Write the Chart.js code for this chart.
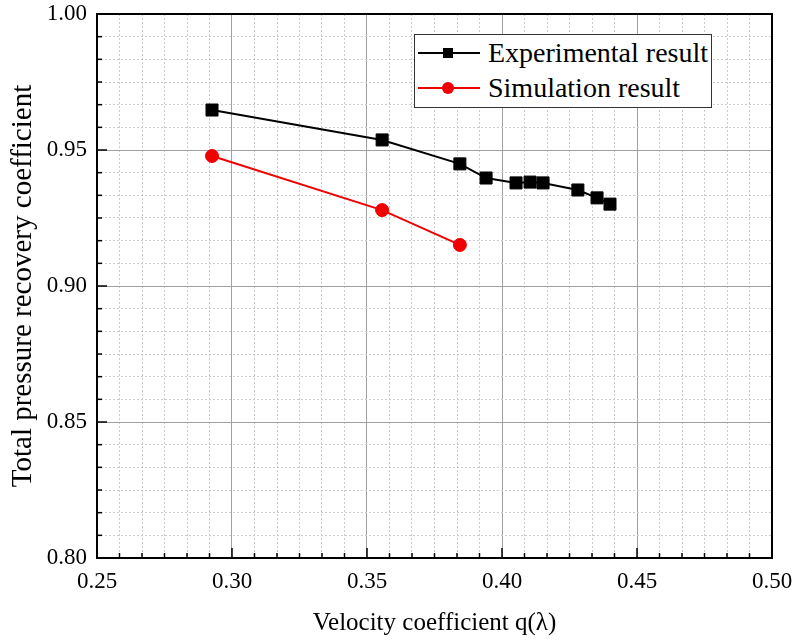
<!DOCTYPE html>
<html>
<head>
<meta charset="utf-8">
<script src="https://cdn.jsdelivr.net/npm/chart.js@4"></script>
<style>
  body { margin: 0; background: #fff; }
  #wrap { position: relative; width: 795px; height: 643px; }
  #legend {
    position: absolute; left: 414px; top: 34px; width: 298px; height: 74px;
    box-sizing: border-box; border: 1.5px solid #333; background: #fff;
    font-family: 'Liberation Serif', 'Times New Roman', serif; font-size: 28px; color: #000;
  }
  .row { position: absolute; left: 0; height: 32px; line-height: 32px; white-space: nowrap; }
  .row svg { position: absolute; left: 3px; top: 6px; }
  .row span { position: absolute; left: 73px; }
</style>
</head>
<body>
<div id="wrap">
  <canvas id="chart"></canvas>
  <div id="legend">
    <div class="row" style="top:2px">
      <svg width="64" height="20"><line x1="0" y1="10" x2="62" y2="10" stroke="#000" stroke-width="2"/><rect x="25" y="5" width="10" height="10" fill="#000"/></svg>
      <span>Experimental result</span>
    </div>
    <div class="row" style="top:37px">
      <svg width="64" height="20"><line x1="0" y1="10" x2="62" y2="10" stroke="#f00000" stroke-width="2"/><circle cx="30" cy="10" r="6" fill="#f00000"/></svg>
      <span>Simulation result</span>
    </div>
  </div>
</div>
<script>
// velocity coefficient q(lambda)
var expX = [0.2926, 0.3556, 0.3844, 0.3941, 0.4052, 0.4104, 0.4152, 0.4281, 0.4352, 0.4400]
var expY = [0.9647, 0.9537, 0.9449, 0.9397, 0.9379, 0.9382, 0.9379, 0.9353, 0.9324, 0.9301]
var simX = [0.2926, 0.3556, 0.3844]
var simY = [0.9478, 0.9279, 0.9151]

var xTicks = [0.25, 0.30, 0.35, 0.40, 0.45, 0.50]
var yTicks = [0.80, 0.85, 0.90, 0.95, 1.00]
var minorPerMajor = 6

function points(xs, ys) {
  return xs.map(function (x, i) { return { x: x, y: ys[i] } })
}

// major ticks plus minor subdivisions between them
function buildTicks(major) {
  var out = []
  for (var i = 0; i < major.length - 1; i++) {
    var step = (major[i + 1] - major[i]) / minorPerMajor
    for (var j = 0; j < minorPerMajor; j++) out.push({ value: major[i] + j * step })
  }
  out.push({ value: major[major.length - 1] })
  return out
}

var font = 'Liberation Serif'

function isMajor(ctx) { return ctx.index !== undefined && ctx.index % minorPerMajor === 0 }

function axis(major, title, titleSize, fitFn) {
  return {
    type: 'linear',
    min: major[0],
    max: major[major.length - 1],
    afterBuildTicks: function (scale) { scale.ticks = buildTicks(major) },
    afterFit: fitFn,
    ticks: {
      autoSkip: false,
      maxRotation: 0,
      padding: 10,
      color: '#000',
      font: { family: font, size: 23 },
      callback: function (v, i) { return i % minorPerMajor === 0 ? v.toFixed(2) : '' }
    },
    grid: {
      drawTicks: false,
      lineWidth: 1,
      color: function (ctx) { return isMajor(ctx) ? '#a0a0a0' : '#cbcbcb' }
    },
    border: {
      display: false,
      dash: function (ctx) { return (ctx.index !== undefined && !isMajor(ctx)) ? [2, 2] : [] }
    },
    title: {
      display: true,
      text: title,
      color: '#000',
      font: { family: font, size: titleSize, weight: 'normal' },
      padding: { top: 6, bottom: 5 }
    }
  }
}

// frame round the plot and inward tick marks on left and bottom
var framePlugin = {
  id: 'frame',
  afterDraw: function (chart) {
    var c = chart.ctx, a = chart.chartArea
    var sx = chart.scales.x, sy = chart.scales.y
    c.save()
    c.strokeStyle = '#000'
    c.lineWidth = 1.5
    sx.ticks.forEach(function (t, i) {
      var p = sx.getPixelForValue(t.value)
      var len = i % minorPerMajor === 0 ? 10 : 5
      c.beginPath(); c.moveTo(p, a.bottom); c.lineTo(p, a.bottom - len); c.stroke()
    })
    sy.ticks.forEach(function (t, i) {
      var p = sy.getPixelForValue(t.value)
      var len = i % minorPerMajor === 0 ? 10 : 5
      c.beginPath(); c.moveTo(a.left, p); c.lineTo(a.left + len, p); c.stroke()
    })
    c.lineWidth = 2
    c.strokeRect(a.left, a.top, a.right - a.left, a.bottom - a.top)
    c.restore()
  }
}

new Chart(document.getElementById('chart'), {
  type: 'scatter',
  data: {
    datasets: [{
      label: 'Experimental result',
      data: points(expX, expY),
      showLine: true,
      borderColor: '#000',
      backgroundColor: '#000',
      borderWidth: 2,
      pointStyle: 'rect',
      pointRadius: 8.5,
      pointBorderWidth: 1
    }, {
      label: 'Simulation result',
      data: points(simX, simY),
      showLine: true,
      borderColor: '#f00000',
      backgroundColor: '#f00000',
      borderWidth: 2,
      pointStyle: 'circle',
      pointRadius: 6.5,
      pointBorderWidth: 1
    }]
  },
  options: {
    responsive: true,
    maintainAspectRatio: false,
    animation: false,
    layout: { padding: { top: 14, right: 23, left: 0, bottom: 0 } },
    plugins: { legend: { display: false }, tooltip: { enabled: false } },
    scales: {
      x: axis(xTicks, 'Velocity coefficient q(λ)', 25, function (s) {
        s.height = 85; s.paddingLeft = 0; s.paddingRight = 0
      }),
      y: axis(yTicks, 'Total pressure recovery coefficient', 29, function (s) {
        s.width = 97; s.paddingTop = 0; s.paddingBottom = 0
      })
    }
  },
  plugins: [framePlugin]
})
</script>
</body>
</html>
